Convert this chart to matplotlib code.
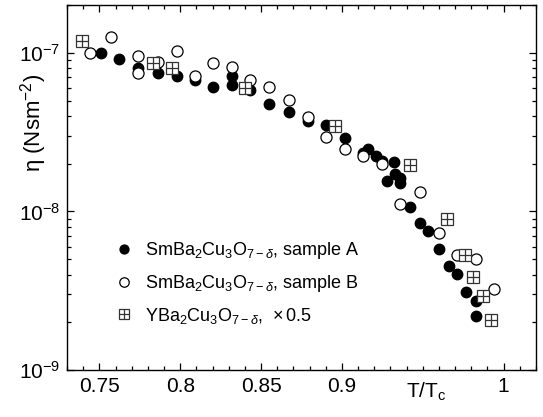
import numpy as np
import matplotlib
matplotlib.use("Agg")
import matplotlib.pyplot as plt
from matplotlib.ticker import MultipleLocator, LogLocator, NullFormatter

plt.rcParams['font.family'] = ['Liberation Sans', 'DejaVu Sans']
plt.rcParams['mathtext.fontset'] = 'custom'
plt.rcParams['mathtext.rm'] = 'Liberation Sans'
plt.rcParams['mathtext.it'] = 'Liberation Sans:italic'
plt.rcParams['mathtext.bf'] = 'Liberation Sans:bold'

# SmBa2Cu3O7-d, sample A (filled circles)
tA = [0.751, 0.762, 0.774, 0.786, 0.798, 0.809, 0.820, 0.832, 0.832, 0.843,
      0.855, 0.867, 0.879, 0.890, 0.902, 0.916, 0.913, 0.921, 0.925, 0.932,
      0.928, 0.933, 0.936, 0.936, 0.942, 0.948, 0.953, 0.960, 0.966, 0.971,
      0.977, 0.983, 0.983]
etaA = [9.9e-8, 9.1e-8, 7.96e-8, 7.5e-8, 7.1e-8, 6.7e-8, 6.1e-8, 7.1e-8, 6.3e-8, 5.86e-8,
        4.72e-8, 4.26e-8, 3.74e-8, 3.48e-8, 2.92e-8, 2.49e-8, 2.32e-8, 2.25e-8, 2.09e-8, 2.06e-8,
        1.56e-8, 1.73e-8, 1.63e-8, 1.50e-8, 1.07e-8, 8.5e-9, 7.57e-9, 5.82e-9, 4.55e-9, 4.05e-9,
        3.12e-9, 2.74e-9, 2.2e-9]

# SmBa2Cu3O7-d, sample B (open circles)
tB = [0.744, 0.757, 0.774, 0.774, 0.786, 0.798, 0.809, 0.820, 0.832, 0.843,
      0.855, 0.867, 0.879, 0.890, 0.902, 0.913, 0.925, 0.948, 0.936, 0.960,
      0.971, 0.983, 0.994]
etaB = [9.9e-8, 1.25e-7, 9.5e-8, 7.4e-8, 8.7e-8, 1.03e-7, 7.1e-8, 8.6e-8, 8.1e-8, 6.7e-8,
        6.1e-8, 5.07e-8, 3.91e-8, 2.96e-8, 2.49e-8, 2.25e-8, 2.0e-8, 1.33e-8, 1.12e-8, 7.35e-9,
        5.33e-9, 5.04e-9, 3.26e-9]

# YBa2Cu3O7-d, x0.5 (boxed plus)
tY = [0.739, 0.783, 0.795, 0.840, 0.896, 0.942, 0.965, 0.976, 0.981, 0.987, 0.992]
etaY = [1.18e-7, 8.6e-8, 7.96e-8, 6.0e-8, 3.43e-8, 1.97e-8, 9.0e-9, 5.33e-9, 3.87e-9, 2.94e-9, 2.07e-9]

fig = plt.figure(figsize=(5.43, 4.17), dpi=100)
ax = fig.add_axes([0.1234, 0.1127, 0.8636, 0.8753])

hA, = ax.plot(tA, etaA, 'o', color='black', ms=7.5, ls='none')
hB, = ax.plot(tB, etaB, 'o', mfc='white', mec='black', mew=0.9, ms=8, ls='none')
hY1, = ax.plot(tY, etaY, 's', mfc='white', mec='#333333', mew=0.9, ms=8.5, ls='none')
hY2, = ax.plot(tY, etaY, '+', color='#333333', mew=0.9, ms=8.5, ls='none')

ax.set_yscale('log')
ax.set_xlim(0.73, 1.02)
ax.set_ylim(1e-9, 2e-7)

ax.xaxis.set_minor_locator(MultipleLocator(0.01))
ax.set_xticks([0.75, 0.8, 0.85, 0.9, 1.0])
ax.set_xticklabels(['0.75', '0.8', '0.85', '0.9', '1'])
ax.yaxis.set_major_locator(LogLocator(base=10))
ax.yaxis.set_minor_locator(LogLocator(base=10, subs=np.arange(2, 10)))
ax.yaxis.set_minor_formatter(NullFormatter())

ax.tick_params(which='both', direction='in', top=True, right=True, labelsize=15, width=0.9)
ax.tick_params(which='major', length=5, pad=5)
ax.tick_params(which='minor', length=3)
for s in ax.spines.values():
    s.set_linewidth(1.0)

# y label sits in the tick-label column, between 1e-7 and 1e-8
fig.text(0.062, 0.705, 'η (Nsm$^{-2}$)', fontsize=16, rotation=90,
         ha='center', va='center', rotation_mode='anchor')
ax.set_xlabel('T/T$_\\mathrm{c}$', fontsize=15)
ax.xaxis.set_label_coords(0.766, -0.03)

leg = ax.legend([hA, hB, (hY1, hY2)],
                ['SmBa$_2$Cu$_3$O$_{7\u2212\\delta}$, sample A',
                 'SmBa$_2$Cu$_3$O$_{7\u2212\\delta}$, sample B',
                 'YBa$_2$Cu$_3$O$_{7\u2212\\delta}$,  $\\times\\,$0.5'],
                loc='upper left', bbox_to_anchor=(0.07, 0.4), frameon=False,
                fontsize=13, numpoints=1, markerscale=0.85, handlelength=0.9,
                handletextpad=0.7, labelspacing=0.65)

fig.savefig('out.png', dpi=100)
